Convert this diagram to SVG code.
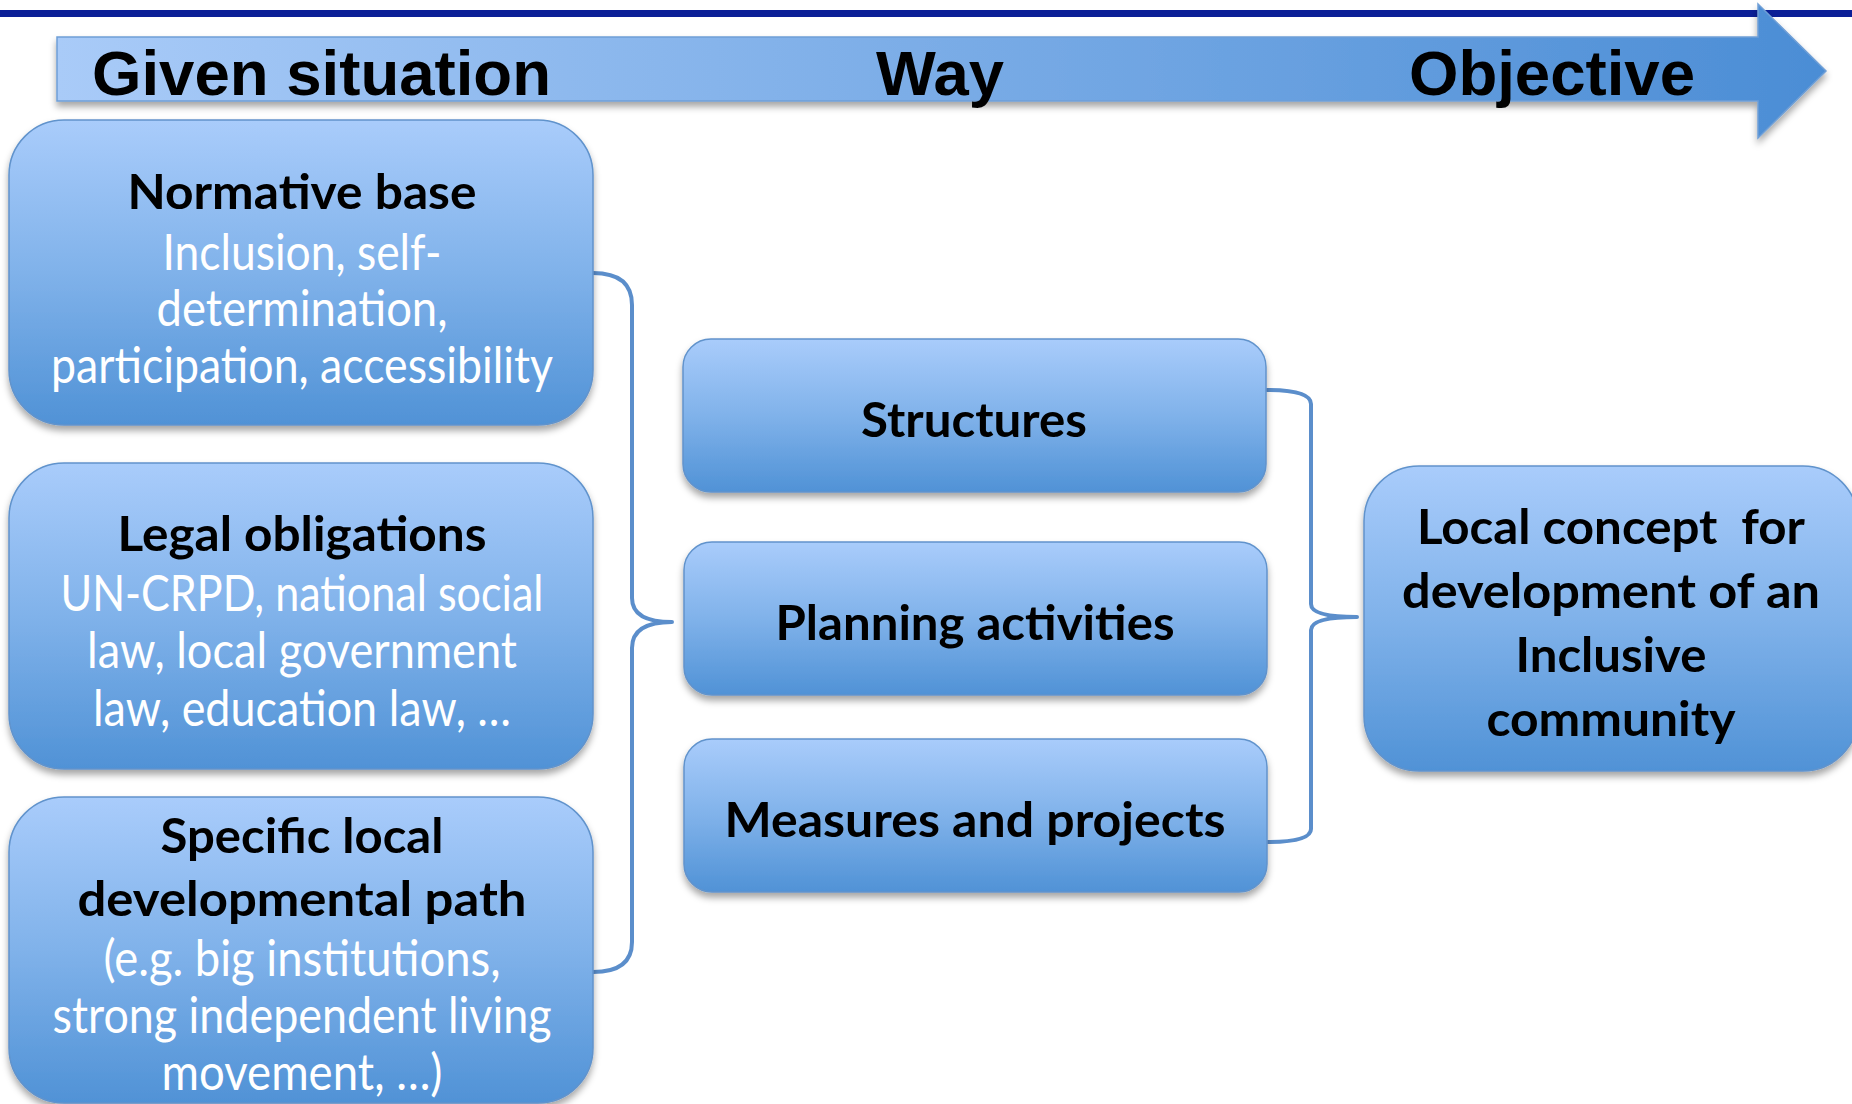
<svg xmlns="http://www.w3.org/2000/svg" width="1852" height="1104" viewBox="0 0 1852 1104">
<defs>
<linearGradient id="boxGrad" x1="0" y1="0" x2="0" y2="1">
<stop offset="0" stop-color="#a9ccfb"/>
<stop offset="0.5" stop-color="#80b2ea"/>
<stop offset="1" stop-color="#5092d6"/>
</linearGradient>
<linearGradient id="arrowGrad" x1="0" y1="0" x2="1" y2="0">
<stop offset="0" stop-color="#a9cbf8"/>
<stop offset="1" stop-color="#4b8dd5"/>
</linearGradient>
<filter id="shadow" x="-10%" y="-10%" width="120%" height="130%">
<feDropShadow dx="0" dy="5" stdDeviation="3.5" flood-color="#000" flood-opacity="0.35"/>
</filter>
</defs>
<style>
.box{fill:url(#boxGrad);stroke:#6193cc;stroke-width:1.5;filter:url(#shadow)}
.hdr{font-family:"Liberation Sans",Arial,sans-serif;font-weight:bold;font-size:63px;fill:#000}
.ttl{font-family:Lato,"Open Sans",sans-serif;font-weight:bold;font-size:48px;fill:#000;text-anchor:middle}
.body{font-family:Lato,"Open Sans",sans-serif;font-size:50px;fill:#fff;text-anchor:middle}
.brace{fill:none;stroke:#5b8ecb;stroke-width:4;stroke-linejoin:round;stroke-linecap:round}
</style>
<rect x="0" y="10" width="1852" height="7" fill="#0b1f97"/>
<g id="arrow">
<path d="M57 37 L1758 37 L1758 4 L1826 71 L1758 138 L1758 101 L57 101 Z" fill="url(#arrowGrad)" stroke="#6f9fd6" stroke-width="1.5" filter="url(#shadow)"/>
<text class="hdr" x="92" y="95" textLength="459" lengthAdjust="spacingAndGlyphs">Given situation</text>
<text class="hdr" x="876" y="95" textLength="128" lengthAdjust="spacingAndGlyphs">Way</text>
<text class="hdr" x="1409" y="95" textLength="286" lengthAdjust="spacingAndGlyphs">Objective</text>
</g>
<g id="connectors">
<path class="brace" d="M593 273 Q632 273 632 305 L632 598 Q632 622 672 622 Q632 622 632 648 L632 942 Q632 972 593 972"/>
<path class="brace" d="M1267 390 Q1311 390 1311 404 L1311 604 Q1311 617 1357 617 Q1311 617 1311 630 L1311 829 Q1311 842 1267 842"/>
</g>
<g id="normative">
<rect class="box" x="9" y="120" width="584" height="305" rx="55" ry="55"/>
<text class="ttl" x="302" y="209" textLength="349" lengthAdjust="spacingAndGlyphs">Normative base</text>
<text class="body" x="302" y="270" textLength="279" lengthAdjust="spacingAndGlyphs">Inclusion, self-</text>
<text class="body" x="302" y="326" textLength="291" lengthAdjust="spacingAndGlyphs">determination,</text>
<text class="body" x="302" y="383" textLength="502" lengthAdjust="spacingAndGlyphs">participation, accessibility</text>
</g>
<g id="legal">
<rect class="box" x="9" y="463" width="584" height="306" rx="55" ry="55"/>
<text class="ttl" x="302" y="551" textLength="369" lengthAdjust="spacingAndGlyphs">Legal obligations</text>
<text class="body" x="302" y="611" textLength="483" lengthAdjust="spacingAndGlyphs">UN-CRPD, national social</text>
<text class="body" x="302" y="668" textLength="430" lengthAdjust="spacingAndGlyphs">law, local government</text>
<text class="body" x="302" y="726" textLength="418" lengthAdjust="spacingAndGlyphs">law, education law, …</text>
</g>
<g id="specific">
<rect class="box" x="9" y="797" width="584" height="306" rx="55" ry="55"/>
<text class="ttl" x="302" y="853" textLength="283" lengthAdjust="spacingAndGlyphs">Specific local</text>
<text class="ttl" x="302" y="916" textLength="449" lengthAdjust="spacingAndGlyphs">developmental path</text>
<text class="body" x="302" y="976" textLength="397" lengthAdjust="spacingAndGlyphs">(e.g. big institutions,</text>
<text class="body" x="302" y="1033" textLength="499" lengthAdjust="spacingAndGlyphs">strong independent living</text>
<text class="body" x="302" y="1090" textLength="281" lengthAdjust="spacingAndGlyphs">movement, …)</text>
</g>
<g id="structures">
<rect class="box" x="683" y="339" width="583" height="153" rx="28" ry="28"/>
<text class="ttl" x="974" y="437" textLength="226" lengthAdjust="spacingAndGlyphs">Structures</text>
</g>
<g id="planning">
<rect class="box" x="684" y="542" width="583" height="153" rx="28" ry="28"/>
<text class="ttl" x="975" y="640" textLength="399" lengthAdjust="spacingAndGlyphs">Planning activities</text>
</g>
<g id="measures">
<rect class="box" x="684" y="739" width="583" height="153" rx="28" ry="28"/>
<text class="ttl" x="975" y="837" textLength="501" lengthAdjust="spacingAndGlyphs">Measures and projects</text>
</g>
<g id="concept">
<rect class="box" x="1364" y="466" width="494" height="305" rx="55" ry="55"/>
<text class="ttl" x="1611" y="544" textLength="388" lengthAdjust="spacingAndGlyphs" style="white-space:pre">Local concept  for</text>
<text class="ttl" x="1611" y="608" textLength="418" lengthAdjust="spacingAndGlyphs">development of an</text>
<text class="ttl" x="1611" y="672" textLength="191" lengthAdjust="spacingAndGlyphs">Inclusive</text>
<text class="ttl" x="1611" y="736" textLength="249" lengthAdjust="spacingAndGlyphs">community</text>
</g>
</svg>
